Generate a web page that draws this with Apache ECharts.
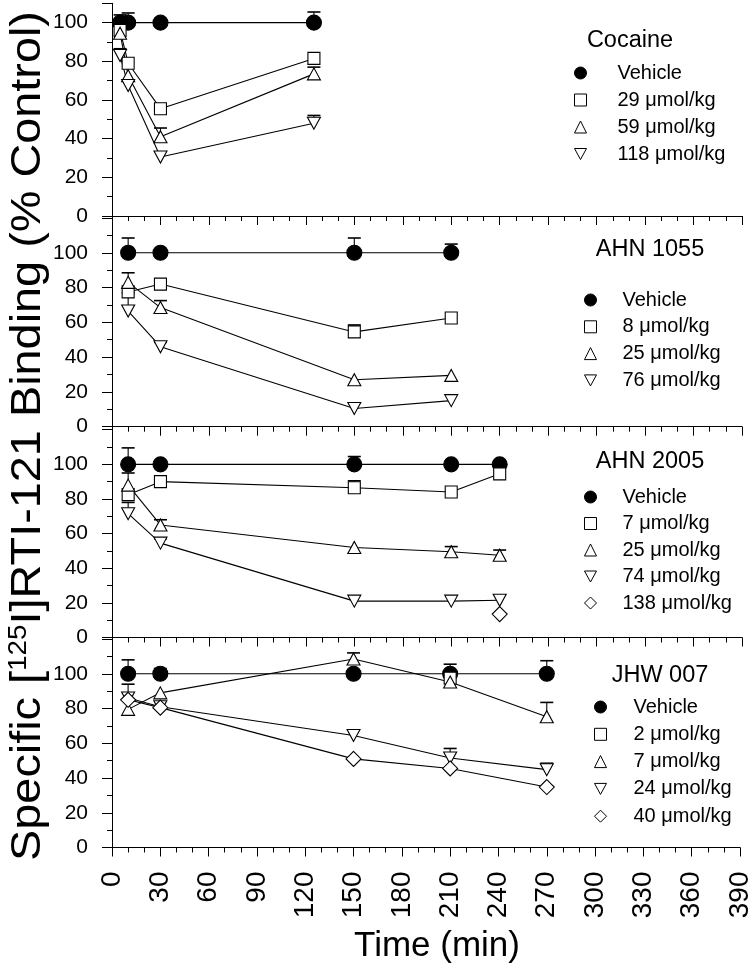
<!DOCTYPE html>
<html><head><meta charset="utf-8">
<script src="https://cdn.jsdelivr.net/npm/echarts@6/dist/echarts.min.js"></script>
<style>html,body{margin:0;padding:0;background:#fff}#c{width:754px;height:975px}</style>
</head><body><div id="c"></div>
<script>
const FONT = "'Liberation Sans', Arial, sans-serif";

// ---- Panel 1: Cocaine ----
const cocTimes = [5, 10, 30, 125];
const cocVehicle = [100, 100, 100, 100];
const coc29 = [96, 79, 55.5, 81.5];
const coc59 = [94.5, 72.5, 41, 73.5];
const coc118 = [83, 67.5, 30.5, 48];
const cocErrVehicle = [[5, 100, 104], [10, 100, 105], [125, 100, 105.5]];
const cocErr59 = [[30, 41, 45.5], [125, 73.5, 77]];
const cocErr118 = [[5, 83, 86.5], [125, 48, 52]];

// ---- Panel 2: AHN 1055 ----
const ahn1Times = [10, 30, 150, 210];
const ahn1Vehicle = [100, 100, 100, 100];
const ahn1_8 = [77.5, 82, 54.5, 62.5];
const ahn1_25 = [83, 68.5, 27, 29.5];
const ahn1_76 = [66.5, 46, 10.5, 15];
const ahn1ErrVehicle = [[10, 100, 108.5], [150, 100, 108.5], [210, 100, 105]];
const ahn1Err8 = [[150, 54.5, 58.5]];
const ahn1Err25 = [[10, 83, 88.5], [30, 68.5, 72.5]];
const ahn1Err76 = [[10, 66.5, 77], [30, 46, 48.5]];

// ---- Panel 3: AHN 2005 ----
const ahn2Times = [10, 30, 150, 210, 240];
const ahn2Vehicle = [100, 100, 100, 100, 100];
const ahn2_7 = [82.5, 90, 86.5, 84, 94.5];
const ahn2_25 = [88, 65, 52, 49.5, 47.5];
const ahn2_74 = [71.5, 54.5, 21, 21, 21.5];
const ahn2_138Times = [240];
const ahn2_138 = [13.5];
const ahn2ErrVehicle = [[10, 100, 109.5], [150, 100, 104.5]];
const ahn2Err7 = [[150, 86.5, 90.5]];
const ahn2Err25 = [[10, 88, 95], [30, 65, 68], [210, 49.5, 52.5], [240, 47.5, 50.5]];
const ahn2Err74 = [[10, 71.5, 78], [30, 54.5, 57]];

// ---- Panel 4: JHW 007 ----
const jhwTimes = [10, 30, 150, 210, 270];
const jhwVehicle = [100, 100, 100, 100, 100];
const jhw2Times = [210];
const jhw2 = [97.5];
const jhw7 = [79.5, 89, 108.5, 95.2, 75.3];
const jhw24 = [86, 81, 64.5, 51.5, 44.8];
const jhw40 = [85, 80.5, 51, 45.5, 34.8];
const jhwErrVehicle = [[10, 100, 108], [30, 100, 103], [210, 100, 105.5], [270, 100, 107.5]];
const jhwErr7 = [[150, 108.5, 112], [270, 75.3, 83.5]];
const jhwErr24 = [[210, 51.5, 57], [270, 44.8, 48.5]];
const jhwErr40 = [[10, 85, 94]];

// tick labels
const xTicks = [0, 30, 60, 90, 120, 150, 180, 210, 240, 270, 300, 330, 360, 390];
const yTicks = [0, 20, 40, 60, 80, 100];

const panelTitles = ['Cocaine', 'AHN 1055', 'AHN 2005', 'JHW 007'];
const legendNames = [
  ['Vehicle', '29 μmol/kg', '59 μmol/kg', '118 μmol/kg'],
  ['Vehicle', '8 μmol/kg', '25 μmol/kg', '76 μmol/kg'],
  ['Vehicle', '7 μmol/kg', '25 μmol/kg', '74 μmol/kg', '138 μmol/kg'],
  ['Vehicle', '2 μmol/kg', '7 μmol/kg', '24 μmol/kg', '40 μmol/kg']
];

// ---------- styles ----------
const STY = {
  veh:  { symbol: 'circle', symbolSize: 15, icon: 'circle', fill: '#000' },
  sq:   { symbol: 'rect', symbolSize: 12, icon: 'rect', fill: '#fff' },
  up:   { symbol: 'triangle', symbolSize: [13, 12], icon: 'triangle', fill: '#fff' },
  down: { symbol: 'triangle', symbolSize: [13, 12], rotate: 180, icon: 'path://M0,0L12,0L6,11Z', fill: '#fff' },
  dia:  { symbol: 'diamond', symbolSize: 15, icon: 'diamond', fill: '#fff' }
};

function zip(t, v) { return t.map((x, i) => [x, v[i]]); }

function lineSeries(name, times, vals, sty, p) {
  const s = STY[sty];
  return {
    type: 'line', name: name, xAxisIndex: p, yAxisIndex: p, z: 3,
    data: zip(times, vals),
    symbol: s.symbol, symbolSize: s.symbolSize, symbolRotate: s.rotate || 0,
    lineStyle: { color: '#000', width: 1.1 },
    itemStyle: { color: s.fill, borderColor: '#000', borderWidth: 1.1 },
    emphasis: { disabled: true }, animation: false
  };
}

function errSeries(data, p) {
  return {
    type: 'custom', xAxisIndex: p, yAxisIndex: p, z: 2, silent: true, animation: false,
    data: data, encode: { x: 0, y: [1, 2] },
    renderItem: function (params, api) {
      const a = api.coord([api.value(0), api.value(1)]);
      const b = api.coord([api.value(0), api.value(2)]);
      return { type: 'group', children: [
        { type: 'line', shape: { x1: a[0], y1: a[1], x2: b[0], y2: b[1] }, style: { stroke: '#000', lineWidth: 1.1 } },
        { type: 'line', shape: { x1: b[0] - 6.5, y1: b[1], x2: b[0] + 6.5, y2: b[1] }, style: { stroke: '#000', lineWidth: 1.6 } }
      ]};
    }
  };
}

const panels = [
  { lines: [[cocTimes, cocVehicle, 'veh'], [cocTimes, coc29, 'sq'], [cocTimes, coc59, 'up'], [cocTimes, coc118, 'down']],
    errs: [cocErrVehicle, cocErr59, cocErr118] },
  { lines: [[ahn1Times, ahn1Vehicle, 'veh'], [ahn1Times, ahn1_8, 'sq'], [ahn1Times, ahn1_25, 'up'], [ahn1Times, ahn1_76, 'down']],
    errs: [ahn1ErrVehicle, ahn1Err8, ahn1Err25, ahn1Err76] },
  { lines: [[ahn2Times, ahn2Vehicle, 'veh'], [ahn2Times, ahn2_7, 'sq'], [ahn2Times, ahn2_25, 'up'], [ahn2Times, ahn2_74, 'down'], [ahn2_138Times, ahn2_138, 'dia']],
    errs: [ahn2ErrVehicle, ahn2Err7, ahn2Err25, ahn2Err74] },
  { lines: [[jhwTimes, jhwVehicle, 'veh'], [jhw2Times, jhw2, 'sq'], [jhwTimes, jhw7, 'up'], [jhwTimes, jhw24, 'down'], [jhwTimes, jhw40, 'dia']],
    errs: [jhwErrVehicle, jhwErr7, jhwErr24, jhwErr40] }
];

// grid geometry (px)
const grids = [
  { top: 3.3, height: 212.7, max: 110 },
  { top: 218, height: 208.7, max: 120 },
  { top: 429.7, height: 207.8, max: 120 },
  { top: 639, height: 208.5, max: 120 }
];
const legendPos = [
  { left: 574, top: 63, gap: 7, pad: 26, tx: 630, ty: 40.5 },
  { left: 584, top: 290, gap: 6.8, pad: 21, tx: 650, ty: 250 },
  { left: 584, top: 487, gap: 6.5, pad: 21, tx: 650, ty: 462 },
  { left: 594, top: 697, gap: 7.3, pad: 22, tx: 660, ty: 676 }
];

const series = [];
const legends = [];
const graphics = [];
panels.forEach((pn, p) => {
  const items = [];
  pn.lines.forEach((ln, k) => {
    const nm = panelTitles[p] + '|' + legendNames[p][k];
    series.push(lineSeries(nm, ln[0], ln[1], ln[2], p));
    items.push({ name: nm, icon: STY[ln[2]].icon });
  });
  pn.errs.forEach(e => series.push(errSeries(e, p)));
  const L = legendPos[p];
  legends.push({
    orient: 'vertical', left: L.left, top: L.top, itemGap: L.gap, itemWidth: 12, itemHeight: 12,
    selectedMode: false, data: items, padding: 0,
    formatter: n => n.split('|')[1],
    itemStyle: { borderColor: '#000', borderWidth: 1 },
    textStyle: { fontFamily: FONT, fontSize: 20, color: '#000', lineHeight: 20, padding: [0, 0, 0, L.pad] }
  });
  graphics.push({ type: 'text', x: L.tx, y: L.ty, style: { text: panelTitles[p], fontFamily: FONT, fontSize: 23.5, fill: '#000', align: 'center', verticalAlign: 'middle' } });
});

graphics.push({ type: 'line', shape: { x1: 112.5, y1: 3, x2: 112.5, y2: 848 }, style: { stroke: '#000', lineWidth: 1 } });
graphics.push({
  type: 'text', x: 28, y: 436, rotation: Math.PI / 2, scaleX: 1.115,
  style: {
    text: 'Specific [{s|125}I]RTI-121 Binding (% Control)',
    rich: { s: { fontFamily: FONT, fontSize: 25, lineHeight: 22, verticalAlign: 'top', fill: '#000' } },
    fontFamily: FONT, fontSize: 42, fill: '#000', align: 'center', verticalAlign: 'middle'
  }
});

const option = {
  animation: false,
  backgroundColor: '#fff',
  grid: grids.map(g => ({ left: 112, right: 12, top: g.top, height: g.height })),
  xAxis: grids.map((g, i) => ({
    type: 'value', gridIndex: i, min: xTicks[0], max: xTicks[xTicks.length - 1], interval: xTicks[1] - xTicks[0],
    axisLine: { onZero: false, lineStyle: { color: '#000', width: 1 } },
    axisTick: { show: true, inside: false, length: 9, lineStyle: { color: '#000' } },
    minorTick: { show: true, splitNumber: 3, length: 5, lineStyle: { color: '#000' } },
    splitLine: { show: false },
    axisLabel: { show: i === 3, rotate: 90, fontFamily: FONT, fontSize: 28, color: '#000', margin: 24 },
    name: i === 3 ? 'Time (min)' : '', nameLocation: 'middle', nameGap: 81,
    nameTextStyle: { fontFamily: FONT, fontSize: 35, color: '#000', padding: [0, 0, 0, 22] }
  })),
  yAxis: grids.map((g, i) => ({
    type: 'value', gridIndex: i, min: yTicks[0], max: g.max, interval: yTicks[1] - yTicks[0],
    axisLine: { show: true, onZero: false, lineStyle: { color: '#000', width: 1 } },
    axisTick: { show: true, inside: false, length: 10, lineStyle: { color: '#000' } },
    minorTick: { show: true, splitNumber: 2, length: 5, lineStyle: { color: '#000' } },
    splitLine: { show: false },
    axisLabel: { fontFamily: FONT, fontSize: 21, color: '#000', margin: 24,
      formatter: v => (yTicks.indexOf(v) >= 0 ? String(v) : '') }
  })),
  legend: legends,
  series: series,
  graphic: graphics
};

const chart = echarts.init(document.getElementById('c'), null, { renderer: 'canvas' });
chart.setOption(option);
</script>
</body></html>
